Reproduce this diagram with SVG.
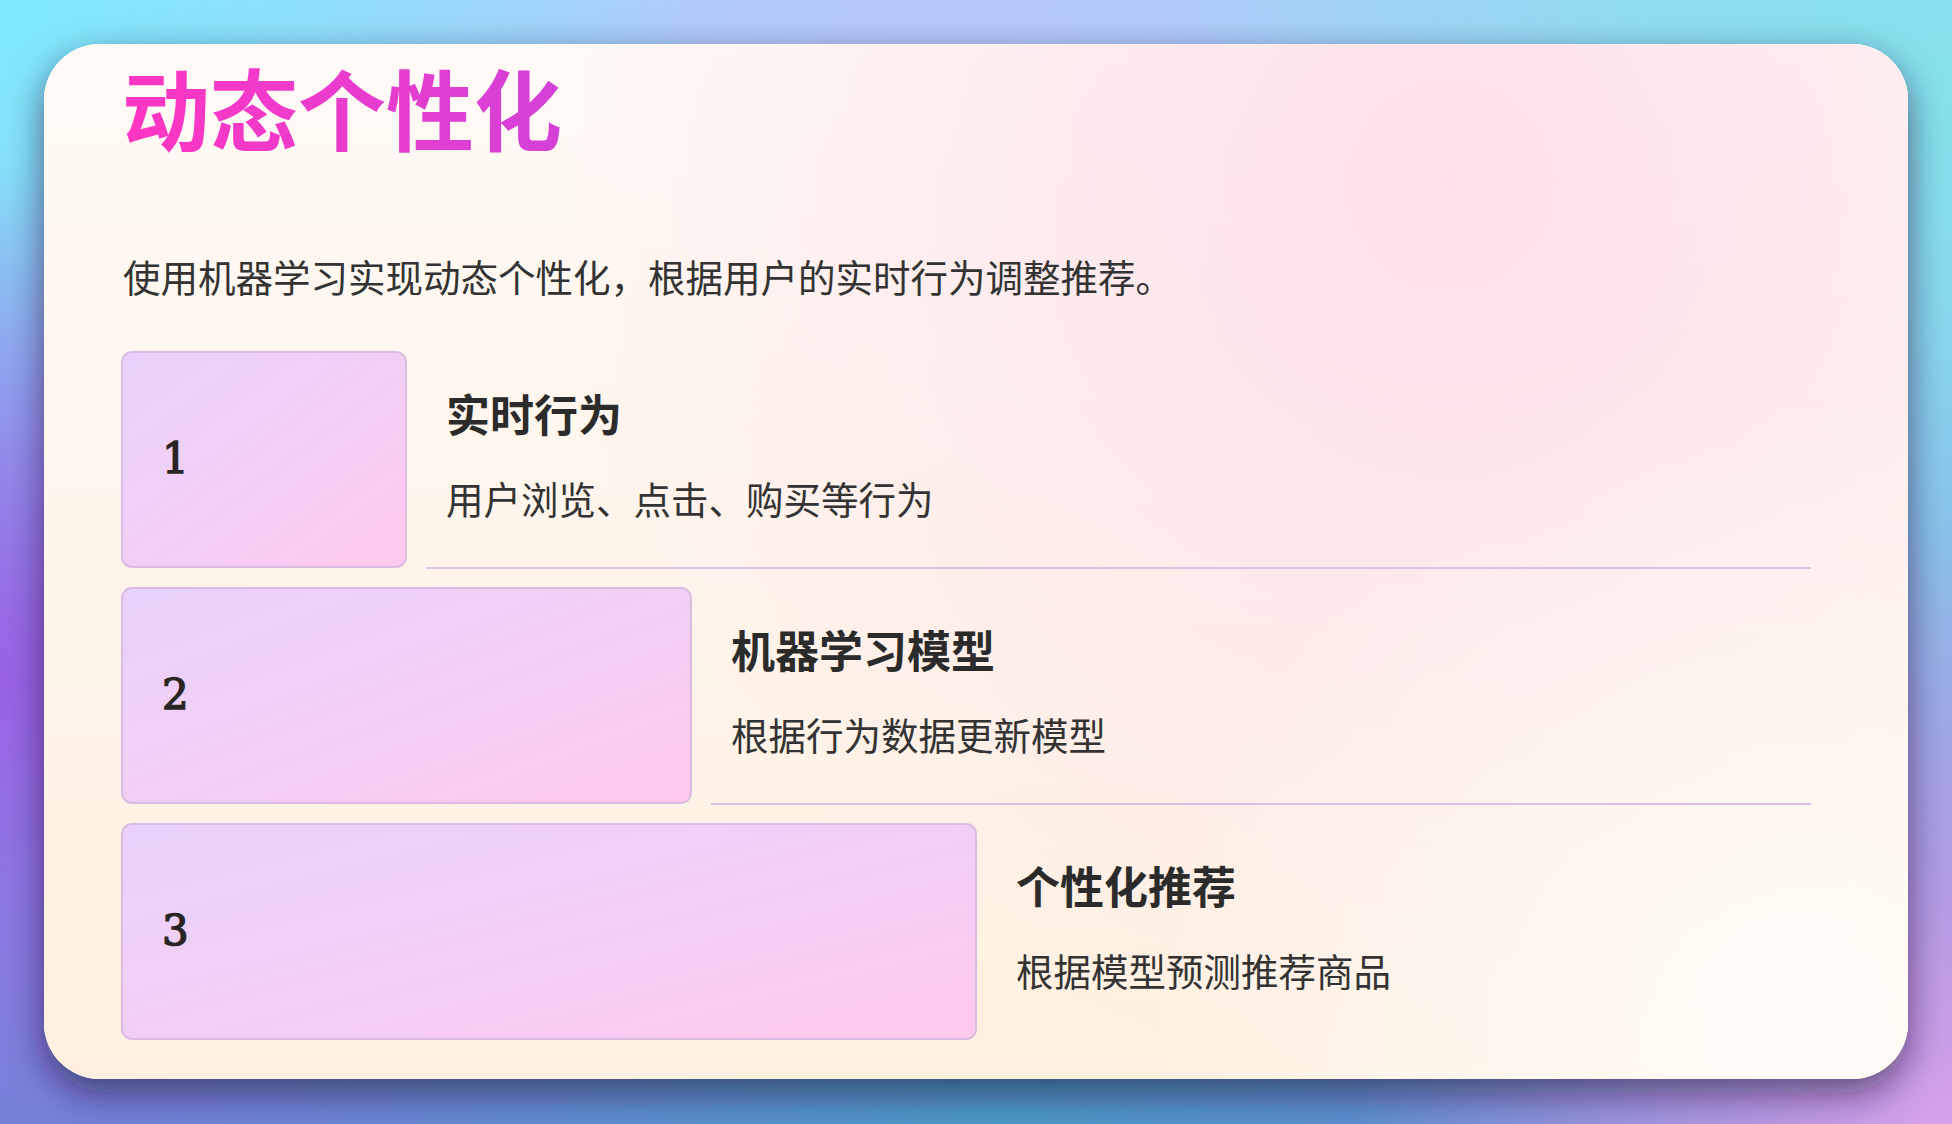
<svg xmlns="http://www.w3.org/2000/svg" width="1952" height="1124" viewBox="0 0 1952 1124">
<defs>
<linearGradient id="bgBase" x1="0" y1="0" x2="0" y2="1">
<stop offset="0" stop-color="#a2d4f6"/>
<stop offset="0.5" stop-color="#8aa6e8"/>
<stop offset="1" stop-color="#6f86d6"/>
</linearGradient>
<radialGradient id="bgTL" cx="0" cy="0" r="700" gradientUnits="userSpaceOnUse">
<stop offset="0" stop-color="#7eeafc"/>
<stop offset="1" stop-color="#7eeafc" stop-opacity="0"/>
</radialGradient>
<radialGradient id="bgTC" cx="950" cy="0" r="700" gradientUnits="userSpaceOnUse">
<stop offset="0" stop-color="#b8c6fa"/>
<stop offset="1" stop-color="#b8c6fa" stop-opacity="0"/>
</radialGradient>
<radialGradient id="bgTR" cx="1952" cy="100" r="800" gradientUnits="userSpaceOnUse">
<stop offset="0" stop-color="#84e2ec"/>
<stop offset="1" stop-color="#84e2ec" stop-opacity="0"/>
</radialGradient>
<radialGradient id="bgL" cx="0" cy="680" r="520" gradientUnits="userSpaceOnUse">
<stop offset="0" stop-color="#9a62e6"/>
<stop offset="1" stop-color="#9a62e6" stop-opacity="0"/>
</radialGradient>
<radialGradient id="bgBR" cx="1952" cy="1124" r="600" gradientUnits="userSpaceOnUse">
<stop offset="0" stop-color="#d8a2ea"/>
<stop offset="1" stop-color="#d8a2ea" stop-opacity="0"/>
</radialGradient>
<radialGradient id="bgBC" cx="1000" cy="1124" r="700" gradientUnits="userSpaceOnUse">
<stop offset="0" stop-color="#4c9ac8"/>
<stop offset="1" stop-color="#4c9ac8" stop-opacity="0"/>
</radialGradient>
<linearGradient id="cardBase" x1="0" y1="0" x2="0" y2="1">
<stop offset="0" stop-color="#fffaf6"/>
<stop offset="1" stop-color="#fff0e0"/>
</linearGradient>
<radialGradient id="cardPink" cx="1450" cy="180" r="900" gradientUnits="userSpaceOnUse">
<stop offset="0" stop-color="#fde0ea"/>
<stop offset="1" stop-color="#fde0ea" stop-opacity="0"/>
</radialGradient>
<radialGradient id="cardWhite" cx="1800" cy="1040" r="650" gradientUnits="userSpaceOnUse">
<stop offset="0" stop-color="#fffcf8"/>
<stop offset="1" stop-color="#fffcf8" stop-opacity="0"/>
</radialGradient>
<linearGradient id="titleGrad" x1="125" y1="0" x2="561" y2="0" gradientUnits="userSpaceOnUse">
<stop offset="0" stop-color="#ff36c2"/>
<stop offset="1" stop-color="#d441d8"/>
</linearGradient>
<linearGradient id="boxGrad" x1="0" y1="0" x2="1" y2="1">
<stop offset="0" stop-color="#e8d2fb"/>
<stop offset="0.5" stop-color="#f2cff5"/>
<stop offset="1" stop-color="#ffc9ec"/>
</linearGradient>
<filter id="shadow" x="-10%" y="-10%" width="120%" height="130%">
<feDropShadow dx="0" dy="14" stdDeviation="18" flood-color="#1c1436" flood-opacity="0.6"/>
</filter>
<clipPath id="cardClip"><rect x="44" y="44" width="1864" height="1035" rx="56"/></clipPath>
</defs>
<style>
.box { fill: url(#boxGrad); stroke: #dcbbe2; stroke-width: 2; }
.num { font-family: "DejaVu Serif", "Liberation Serif", serif; font-weight: normal; font-size: 42px; fill: #2a2424; stroke: #2a2424; stroke-width: 1.4px; }
.head { font-family: "Noto Sans CJK SC", "Noto Sans", sans-serif; font-weight: bold; font-size: 44px; fill: #2b2b2b; }
.body { font-family: "Noto Sans CJK SC", "Noto Sans", sans-serif; font-size: 37.5px; fill: #333333; }
.sep { stroke: #dec0e6; stroke-width: 2; fill: none; }
</style>
<g id="background">
<rect width="1952" height="1124" fill="url(#bgBase)"/>
<rect width="1952" height="1124" fill="url(#bgTC)"/>
<rect width="1952" height="1124" fill="url(#bgTR)"/>
<rect width="1952" height="1124" fill="url(#bgTL)"/>
<rect width="1952" height="1124" fill="url(#bgBC)"/>
<rect width="1952" height="1124" fill="url(#bgL)"/>
<rect width="1952" height="1124" fill="url(#bgBR)"/>
</g>
<g id="card">
<rect x="44" y="44" width="1864" height="1035" rx="56" fill="#fff6ee" filter="url(#shadow)"/>
<g clip-path="url(#cardClip)">
<rect x="44" y="44" width="1864" height="1035" fill="url(#cardBase)"/>
<rect x="44" y="44" width="1864" height="1035" fill="url(#cardPink)"/>
<rect x="44" y="44" width="1864" height="1035" fill="url(#cardWhite)"/>
</g>
</g>
<g id="title">
<text x="122" y="144" font-family="'Noto Sans CJK SC', 'Noto Sans', sans-serif" font-weight="bold" font-size="88" fill="url(#titleGrad)">动态个性化</text>
</g>
<g id="subtitle">
<text class="body" x="123" y="292">使用机器学习实现动态个性化，根据用户的实时行为调整推荐。</text>
</g>
<g id="connectors">
<line class="sep" x1="426" y1="568" x2="1811" y2="568"/>
<line class="sep" x1="711" y1="804" x2="1811" y2="804"/>
</g>
<g id="node1">
<rect class="box" x="122" y="352" width="284" height="215" rx="10"/>
<text class="num" x="162" y="473">1</text>
<text class="head" x="446" y="432">实时行为</text>
<text class="body" x="446" y="514">用户浏览、点击、购买等行为</text>
</g>
<g id="node2">
<rect class="box" x="122" y="588" width="569" height="215" rx="10"/>
<text class="num" x="162" y="709">2</text>
<text class="head" x="731" y="668">机器学习模型</text>
<text class="body" x="731" y="750">根据行为数据更新模型</text>
</g>
<g id="node3">
<rect class="box" x="122" y="824" width="854" height="215" rx="10"/>
<text class="num" x="162" y="945">3</text>
<text class="head" x="1016" y="904">个性化推荐</text>
<text class="body" x="1016" y="986">根据模型预测推荐商品</text>
</g>
</svg>
